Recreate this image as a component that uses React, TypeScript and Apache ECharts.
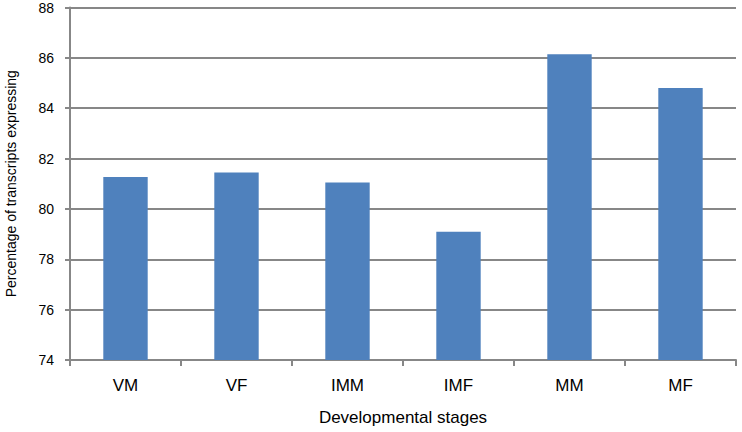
import React, { useEffect, useRef } from "react";
import * as echarts from "echarts";

const categories = ["VM", "VF", "IMM", "IMF", "MM", "MF"];
const values = [81.27, 81.45, 81.05, 79.09, 86.14, 84.8];
const yMin = 74;
const yMax = 88;
const yInterval = 2;
const xName = "Developmental stages";
const yName = "Percentage of transcripts expressing";

export default function App() {
  const ref = useRef<HTMLDivElement>(null);
  useEffect(() => {
    const chart = echarts.init(ref.current!, null, { renderer: "svg" });
    const font = "'Liberation Sans', Arial, sans-serif";
    chart.setOption({
      animation: false,
      backgroundColor: "#ffffff",
      grid: { left: 70, top: 7.5, right: 6, bottom: 72, containLabel: false, outerBoundsMode: "none" },
      xAxis: {
        type: "category",
        data: categories,
        name: xName,
        nameLocation: "middle",
        nameGap: 49,
        nameTextStyle: { fontFamily: font, fontSize: 17, color: "#000" },
        axisLine: { show: true, lineStyle: { color: "#878787", width: 2 } },
        axisTick: { show: true, length: 6, inside: false, alignWithLabel: false, lineStyle: { color: "#878787", width: 2 } },
        axisLabel: { fontFamily: font, fontSize: 17, color: "#000", margin: 17 },
      },
      yAxis: {
        type: "value",
        min: yMin,
        max: yMax,
        interval: yInterval,
        name: yName,
        nameLocation: "middle",
        nameGap: 52,
        nameTextStyle: { fontFamily: font, fontSize: 14, color: "#000" },
        axisLine: { show: true, lineStyle: { color: "#878787", width: 2 } },
        axisTick: { show: true, length: 5, inside: false, lineStyle: { color: "#878787", width: 2 } },
        axisLabel: { fontFamily: font, fontSize: 14, color: "#000", margin: 16 },
        splitLine: { show: true, lineStyle: { color: "#878787", width: 2 } },
      },
      series: [
        {
          type: "bar",
          data: values,
          barWidth: "40%",
          itemStyle: { color: "#4F81BD" },
        },
      ],
    });
    return () => chart.dispose();
  }, []);
  return <div ref={ref} style={{ width: 742, height: 432, position: "absolute", left: 0, top: 0 }} />;
}
